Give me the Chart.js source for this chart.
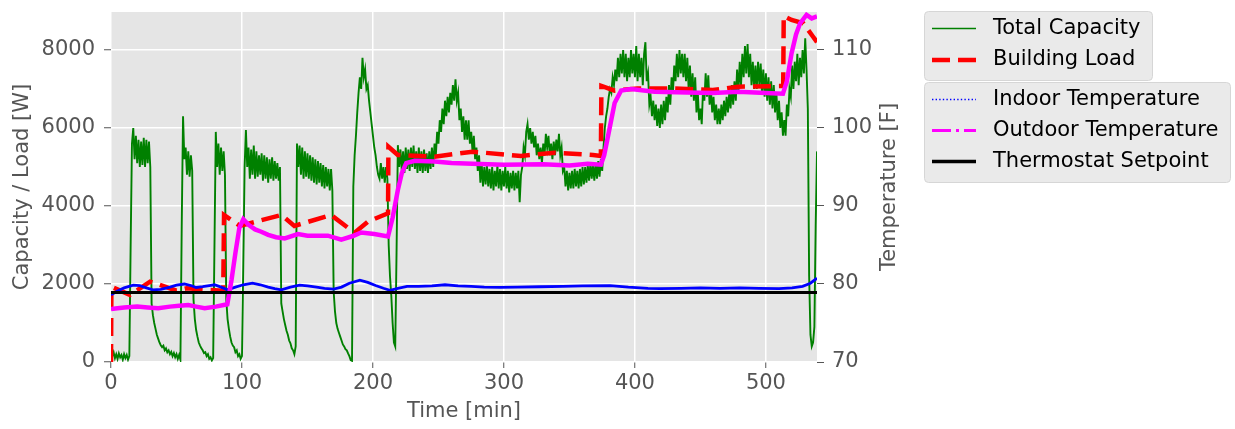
<!DOCTYPE html>
<html>
<head>
<meta charset="utf-8">
<script src="https://cdn.jsdelivr.net/npm/chart.js@4.4.1/dist/chart.umd.min.js"></script>
<style>
  html, body { margin: 0; padding: 0; background: #fff; }
  #wrap { width: 1235px; height: 429px; }
</style>
</head>
<body>
<div id="wrap"><canvas id="chart" width="1235" height="429"></canvas></div>
<script>
// total capacity [W], one reading per minute from t = 0
const capacityW = [
  380,150,250,100,200,80,220,120,180,60,
  200,100,180,60,150,3000,5600,6000,5200,5800,
  5100,5700,5000,5650,5050,5750,5000,5700,5100,5650,
  5000,1500,1200,1000,850,700,600,500,430,380,
  420,300,350,250,300,200,260,150,230,120,
  200,80,180,60,3500,6300,5200,5500,4800,5400,
  4750,5300,4900,1600,1100,820,650,500,420,350,
  300,230,250,150,200,80,120,40,100,3000,
  5900,5000,5600,4800,5500,4900,5400,4800,1600,1100,
  850,650,500,420,380,250,300,150,200,80,
  150,2500,5000,5950,5000,5500,4700,5450,4800,5550,
  4700,5400,4750,5300,4800,5350,4650,5300,4700,5250,
  4600,5200,4700,5250,4650,5150,4700,5100,4650,5000,
  1500,1300,1100,950,800,700,550,480,350,300,
  200,400,5600,5000,5550,4800,5500,4700,5400,4750,
  5350,4700,5300,4650,5250,4600,5200,4550,5150,4600,
  5100,4500,5050,4450,5000,4500,4950,4400,4950,4400,
  1800,1300,1000,850,750,650,550,450,400,330,
  300,220,150,50,30,4500,5300,5800,6400,6900,
  7300,7000,7800,7300,7500,7000,7100,6700,6400,6100,
  5800,5500,5300,5000,4800,4700,5100,4700,5000,4600,
  5000,4700,3000,2200,1700,1000,500,400,2800,5560,
  5000,5450,4900,5400,4850,5500,4950,5450,4900,5500,
  5000,5550,4950,5400,4850,5500,4900,5400,4850,5450,
  4900,5350,4850,5400,4950,5500,5000,5600,5300,5900,
  5600,6200,5900,6500,6100,6700,6300,6800,6400,6900,
  6600,7100,6700,7250,6700,6900,6200,6500,5900,6300,
  5700,6200,5700,6200,5600,5900,5400,5800,5200,5500,
  4900,5300,4600,5100,4500,5000,4550,5050,4500,4950,
  4450,5000,4400,4900,4500,5050,4450,4950,4400,4900,
  4500,5000,4450,4900,4350,4850,4450,4900,4400,4850,
  4450,4900,4100,4800,5000,5500,5300,5900,6100,5700,
  6000,5600,5900,5500,5800,5300,5600,5200,5500,5100,
  5600,5300,5850,5500,5800,5300,5600,5200,5650,5300,
  5700,5400,5850,5300,5500,4900,5000,4500,4900,4400,
  4850,4450,4900,4450,4950,4500,4900,4450,4950,4500,
  5000,4550,5000,4600,5050,4650,5100,4700,5050,4650,
  5100,4700,5150,4750,5200,4900,5500,6000,6300,6500,
  6800,7000,6900,7300,7100,7500,7200,7800,7300,7900,
  7400,8000,7300,7900,7200,7800,7300,8000,7400,7900,
  7300,8100,7200,7900,7300,7800,7100,7900,8200,7200,
  7400,6600,6800,6300,6700,6200,6600,6050,6500,6000,
  6600,6100,6700,6200,6800,6400,7100,6600,7300,6900,
  7600,7200,7900,7300,8000,7400,7900,7300,7900,7200,
  7800,7000,7600,6800,7400,6700,7300,6400,6900,6200,
  6500,6100,7000,6700,7400,6800,7350,6600,7000,6400,
  6800,6200,6600,6100,6500,6100,6600,6200,6700,6300,
  6800,6400,6900,6500,7100,6600,7200,6700,7500,6900,
  7700,7100,7900,7300,8100,7400,8150,7300,7900,7100,
  7700,7000,7600,7000,7700,7100,7650,6900,7500,6800,
  7400,6700,7300,6600,7200,6500,7100,6400,6900,6200,
  6700,6000,6400,5800,6200,5800,6600,6300,7000,6800,
  7600,7000,7700,7200,7900,7100,7800,7300,8000,7400,
  8300,7500,6500,2200,700,400,500,900,3500,5400
];

// building load [W]
const loadTime = [0, 0.3, 14.5, 29.8, 50, 57.8, 75.6, 85.7, 86.3, 98.5, 130, 140, 168, 186, 196, 211.5,
  211.8, 219, 247, 276, 313, 338.7, 368, 374, 374.4, 384.5, 402, 427, 459.5, 478.6, 513.2, 513.6,
  519.6, 528.5, 536, 539];
const loadW = [0, 1930, 1720, 2060, 1830, 1890, 1846, 1830, 3770, 3490, 3770, 3490, 3770, 3315, 3597, 3813,
  5520, 5308, 5265, 5393, 5282, 5368, 5308, 5282, 7077, 6957, 7015, 7015, 6974, 7059, 7077, 8871,
  8769, 8685, 8340, 8200];

// indoor temperature [F]
const indoorTime = [0, 5, 10, 17, 22, 27, 32, 38, 45, 50, 56, 61, 65, 70, 75, 79, 84, 89, 95, 101, 108,
  114, 120, 125, 130, 137, 144, 150, 157, 163, 170, 176, 182, 190, 196, 202, 208, 213, 219, 226, 235,
  245, 255, 265, 275, 285, 297, 310, 327, 345, 360, 381, 395, 410, 419, 435, 450, 465, 480, 495, 510,
  520, 528, 534, 539];
const indoorF = [78.6, 79.1, 79.5, 79.85, 79.8, 79.5, 79.25, 79.3, 79.6, 79.85, 80.0, 79.8, 79.55, 79.65,
  79.8, 79.9, 79.6, 79.25, 79.6, 79.9, 80.1, 79.9, 79.6, 79.4, 79.25, 79.6, 79.85, 79.75, 79.6, 79.45,
  79.35, 79.6, 80.1, 80.5, 80.2, 79.8, 79.45, 79.2, 79.45, 79.7, 79.7, 79.75, 79.9, 79.75, 79.7, 79.6,
  79.57, 79.6, 79.65, 79.7, 79.75, 79.8, 79.6, 79.45, 79.4, 79.45, 79.5, 79.45, 79.5, 79.45, 79.4,
  79.5, 79.7, 80.1, 80.75];

// outdoor temperature [F]
const outdoorTime = [0, 5, 10, 20, 28, 36, 45, 52, 59, 65, 71.5, 80, 86, 88.8, 92, 95, 98, 101, 105, 110,
  114.7, 120, 126, 132.6, 142.7, 150, 165.6, 175.8, 184.7, 191, 201, 211.5, 215, 219, 222, 225.4, 231.8,
  247, 260, 276, 300, 330, 350, 364, 374, 376.5, 379.4, 384.5, 389.5, 397, 415, 440, 459.5, 479, 500,
  513, 516, 519.6, 523, 526, 531, 535, 539];
const outdoorF = [76.8, 76.9, 77.0, 77.1, 77.0, 76.9, 77.1, 77.2, 77.3, 77.1, 76.9, 77.1, 77.3, 77.4, 80.5,
  84.0, 87.2, 88.3, 87.6, 87.0, 86.7, 86.3, 86.0, 85.85, 86.4, 86.2, 86.2, 85.7, 86.15, 86.6, 86.4, 86.1,
  88.5, 92.05, 94.2, 95.5, 95.8, 95.7, 95.5, 95.4, 95.3, 95.35, 95.2, 95.4, 95.3, 96.5, 98.9, 103.2,
  104.8, 105.0, 104.65, 104.55, 104.5, 104.65, 104.5, 104.4, 106.0, 109.6, 112.0, 113.4, 114.5, 114.05,
  114.3];

const setpointF = 78.9;

const timeTicks = [0, 100, 200, 300, 400, 500];
const capacityTicks = [0, 2000, 4000, 6000, 8000];
const tempTicks = [70, 80, 90, 100, 110];

const seriesNames = ["Total Capacity", "Building Load", "Indoor Temperature", "Outdoor Temperature", "Thermostat Setpoint"];

const FONT = "'DejaVu Sans', 'Liberation Sans', sans-serif";
const FONT_SIZE = 21;
const GREY = "#555555";

const pairs = (xs, ys) => xs.map((x, i) => ({ x, y: ys[i] }));

// plot box (px) as in the original figure
const AREA = { left: 111, right: 817, top: 12, bottom: 362 };
const RIGHT_AXIS_W = 70;

const bgPlugin = {
  id: "bg",
  beforeDraw(chart) {
    const { ctx, chartArea: a } = chart;
    ctx.save();
    ctx.fillStyle = "#E5E5E5";
    ctx.fillRect(a.left, a.top, a.right - a.left, a.bottom - a.top);
    ctx.restore();
  }
};

const legendRows = [
  { y: 28.5, color: "#008000", width: 1.5, dash: [] },
  { y: 60, color: "#FF0000", width: 4.5, dash: [18, 8] },
  { y: 99.5, color: "#0000FF", width: 1.5, dash: [1.4, 2.2] },
  { y: 130.5, color: "#FF00FF", width: 3, dash: [19, 5, 3, 5] },
  { y: 161.5, color: "#000000", width: 3.5, dash: [] }
];
const legendBoxes = [
  { x: 924.5, y: 11.5, w: 228, h: 69 },
  { x: 924.5, y: 82.5, w: 306, h: 100 }
];

const labelsPlugin = {
  id: "labels",
  afterDraw(chart) {
    const ctx = chart.ctx;
    const a = chart.chartArea;
    ctx.save();
    ctx.fillStyle = GREY;
    ctx.font = FONT_SIZE + "px " + FONT;
    ctx.textAlign = "center";
    ctx.textBaseline = "middle";
    ctx.fillText("Time [min]", (a.left + a.right) / 2, 412);

    ctx.save();
    ctx.translate(23, (a.top + a.bottom) / 2);
    ctx.rotate(-Math.PI / 2);
    ctx.fillText("Capacity / Load [W]", 0, 0);
    ctx.restore();

    ctx.save();
    ctx.translate(890, (a.top + a.bottom) / 2);
    ctx.rotate(-Math.PI / 2);
    ctx.fillText("Temperature [F]", 0, 0);
    ctx.restore();

    // two legend frames, as in the original
    legendBoxes.forEach(b => {
      ctx.beginPath();
      ctx.roundRect(b.x, b.y, b.w, b.h, 4);
      ctx.fillStyle = "#EAEAEA";
      ctx.fill();
      ctx.strokeStyle = "#D6D6D6";
      ctx.lineWidth = 1;
      ctx.stroke();
    });
    legendRows.forEach((r, i) => {
      ctx.beginPath();
      ctx.setLineDash(r.dash);
      ctx.lineCap = "butt";
      ctx.strokeStyle = r.color;
      ctx.lineWidth = r.width;
      ctx.moveTo(932, r.y);
      ctx.lineTo(976, r.y);
      ctx.stroke();
      ctx.setLineDash([]);
      ctx.fillStyle = "#000000";
      ctx.textAlign = "left";
      ctx.fillText(seriesNames[i], 993, r.y);
    });
    ctx.restore();
  }
};

const fixTicks = list => scale => { scale.ticks = list.map(v => ({ value: v })); };
const tickFont = { family: FONT, size: FONT_SIZE };

const ctx = document.getElementById("chart").getContext("2d");
new Chart(ctx, {
  type: "line",
  data: {
    datasets: [
      {
        label: seriesNames[0],
        data: capacityW.map((v, i) => ({ x: i, y: v })),
        borderColor: "#008000",
        borderWidth: 1.9,
        yAxisID: "y",
        order: 5
      },
      {
        label: seriesNames[1],
        data: pairs(loadTime, loadW),
        borderColor: "#FF0000",
        borderWidth: 4.5,
        borderDash: [18, 8],
        yAxisID: "y",
        order: 4
      },
      {
        label: seriesNames[2],
        data: pairs(indoorTime, indoorF),
        borderColor: "#0000FF",
        borderWidth: 2.8,
        yAxisID: "y1",
        order: 3
      },
      {
        label: seriesNames[3],
        data: pairs(outdoorTime, outdoorF),
        borderColor: "#FF00FF",
        borderWidth: 4.5,
        yAxisID: "y1",
        order: 2
      },
      {
        label: seriesNames[4],
        data: [{ x: 0, y: setpointF }, { x: 539, y: setpointF }],
        borderColor: "#000000",
        borderWidth: 3,
        yAxisID: "y1",
        order: 1
      }
    ]
  },
  options: {
    responsive: false,
    animation: false,
    devicePixelRatio: 1,
    elements: { point: { radius: 0 }, line: { tension: 0, fill: false } },
    layout: { padding: { left: 0, top: AREA.top, right: 1235 - AREA.right - RIGHT_AXIS_W, bottom: 0 } },
    plugins: { legend: { display: false }, tooltip: { enabled: false } },
    scales: {
      x: {
        type: "linear",
        min: 0,
        max: 539,
        afterBuildTicks: fixTicks(timeTicks),
        afterFit: s => { s.height = 429 - AREA.bottom; s.paddingLeft = 0; s.paddingRight = 0; },
        border: { display: false },
        grid: { color: "#FFFFFF", lineWidth: 1.5, tickColor: GREY, tickLength: 6, tickWidth: 1 },
        ticks: { color: GREY, font: tickFont, padding: 3, maxRotation: 0, callback: v => String(v) }
      },
      y: {
        position: "left",
        min: 0,
        max: 8974,
        afterBuildTicks: fixTicks(capacityTicks),
        afterFit: s => { s.width = AREA.left; s.paddingTop = 0; s.paddingBottom = 0; },
        border: { display: false },
        grid: { color: "#FFFFFF", lineWidth: 1.5, tickColor: GREY, tickLength: 7, tickWidth: 1 },
        ticks: { color: GREY, font: tickFont, padding: 9, callback: v => String(v) }
      },
      y1: {
        position: "right",
        min: 70,
        max: 114.87,
        afterBuildTicks: fixTicks(tempTicks),
        afterFit: s => { s.width = RIGHT_AXIS_W; s.paddingTop = 0; s.paddingBottom = 0; },
        border: { display: false },
        grid: { drawOnChartArea: false, tickColor: GREY, tickLength: 7, tickWidth: 1 },
        ticks: { color: GREY, font: tickFont, padding: 8, callback: v => String(v) }
      }
    }
  },
  plugins: [bgPlugin, labelsPlugin]
});
</script>
</body>
</html>
